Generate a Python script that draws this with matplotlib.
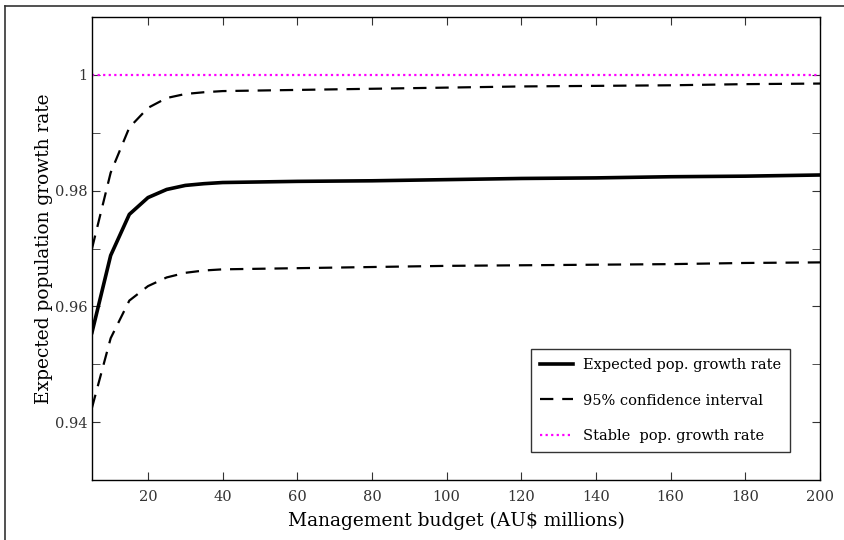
import numpy as np
import matplotlib
matplotlib.use("Agg")
import matplotlib.pyplot as plt
from matplotlib.lines import Line2D
from matplotlib.ticker import MultipleLocator

# budget (AU$ millions)
budget = [5, 10, 15, 20, 25, 30, 35, 40, 50, 60, 80, 100, 120, 140, 160, 180, 200]
expected = [0.9555, 0.9688, 0.9759, 0.9788, 0.9802, 0.9809, 0.9812, 0.9814, 0.9815, 0.9816,
            0.9817, 0.9819, 0.9821, 0.9822, 0.9824, 0.9825, 0.9827]
upper_ci = [0.9700, 0.9831, 0.9909, 0.9943, 0.9960, 0.9967, 0.9970, 0.9972, 0.9973, 0.9974,
            0.9976, 0.9978, 0.9980, 0.9981, 0.9982, 0.9984, 0.9985]
lower_ci = [0.9425, 0.9545, 0.9610, 0.9635, 0.9650, 0.9658, 0.9662, 0.9664, 0.9665, 0.9666,
            0.9668, 0.9670, 0.9671, 0.9672, 0.9673, 0.9675, 0.9676]
stable = 1.0

plt.rcParams["font.family"] = ["DejaVu Serif"]

fig = plt.figure(figsize=(8.45, 5.4), dpi=100)
ax = fig.add_axes([92 / 845, 1 - 480 / 540, (820 - 92) / 845, (480 - 17) / 540])

ax.plot(budget, expected, color="black", linewidth=2.6, label="Expected pop. growth rate")
ax.plot(budget, upper_ci, color="black", linewidth=1.6, linestyle=(0, (6, 4)),
        label="95% confidence interval")
ax.plot(budget, lower_ci, color="black", linewidth=1.6, linestyle=(0, (6, 4)))
ax.plot([budget[0], budget[-1]], [stable, stable], color="magenta", linewidth=1.6,
        linestyle=(0, (1, 1.5)), label="Stable  pop. growth rate")

ax.set_xlim(5, 200)
ax.set_ylim(0.93, 1.01)
ax.set_xticks([20, 40, 60, 80, 100, 120, 140, 160, 180, 200])
ax.set_yticks([0.94, 0.96, 0.98, 1.0])
ax.set_yticklabels(["0.94", "0.96", "0.98", "1"])
ax.yaxis.set_minor_locator(MultipleLocator(0.01))
ax.tick_params(which="both", direction="in", top=True, right=True, labelsize=10.5,
               color="#333333", labelcolor="#333333", length=6)
ax.tick_params(axis="x", pad=7)
for spine in ax.spines.values():
    spine.set_linewidth(1.0)

ax.set_xlabel("Management budget (AU$ millions)", fontsize=13.4, labelpad=6)
ax.set_ylabel("Expected population growth rate", fontsize=13.4, labelpad=1)

leg = ax.legend(loc="lower right", bbox_to_anchor=(0.959, 0.06), fontsize=10.5,
                frameon=True, fancybox=False, edgecolor="black", handlelength=2.3,
                handletextpad=0.7, labelspacing=1.5, borderpad=0.6, borderaxespad=0)
leg.get_frame().set_linewidth(1.0)

# outer frame of the figure
fig.add_artist(Line2D([5 / 845, 5 / 845], [0, 1 - 6 / 540], color="#333333", linewidth=1.2))
fig.add_artist(Line2D([5 / 845, 1], [1 - 6 / 540, 1 - 6 / 540], color="#333333", linewidth=1.2))

fig.savefig("out.png", dpi=100)
